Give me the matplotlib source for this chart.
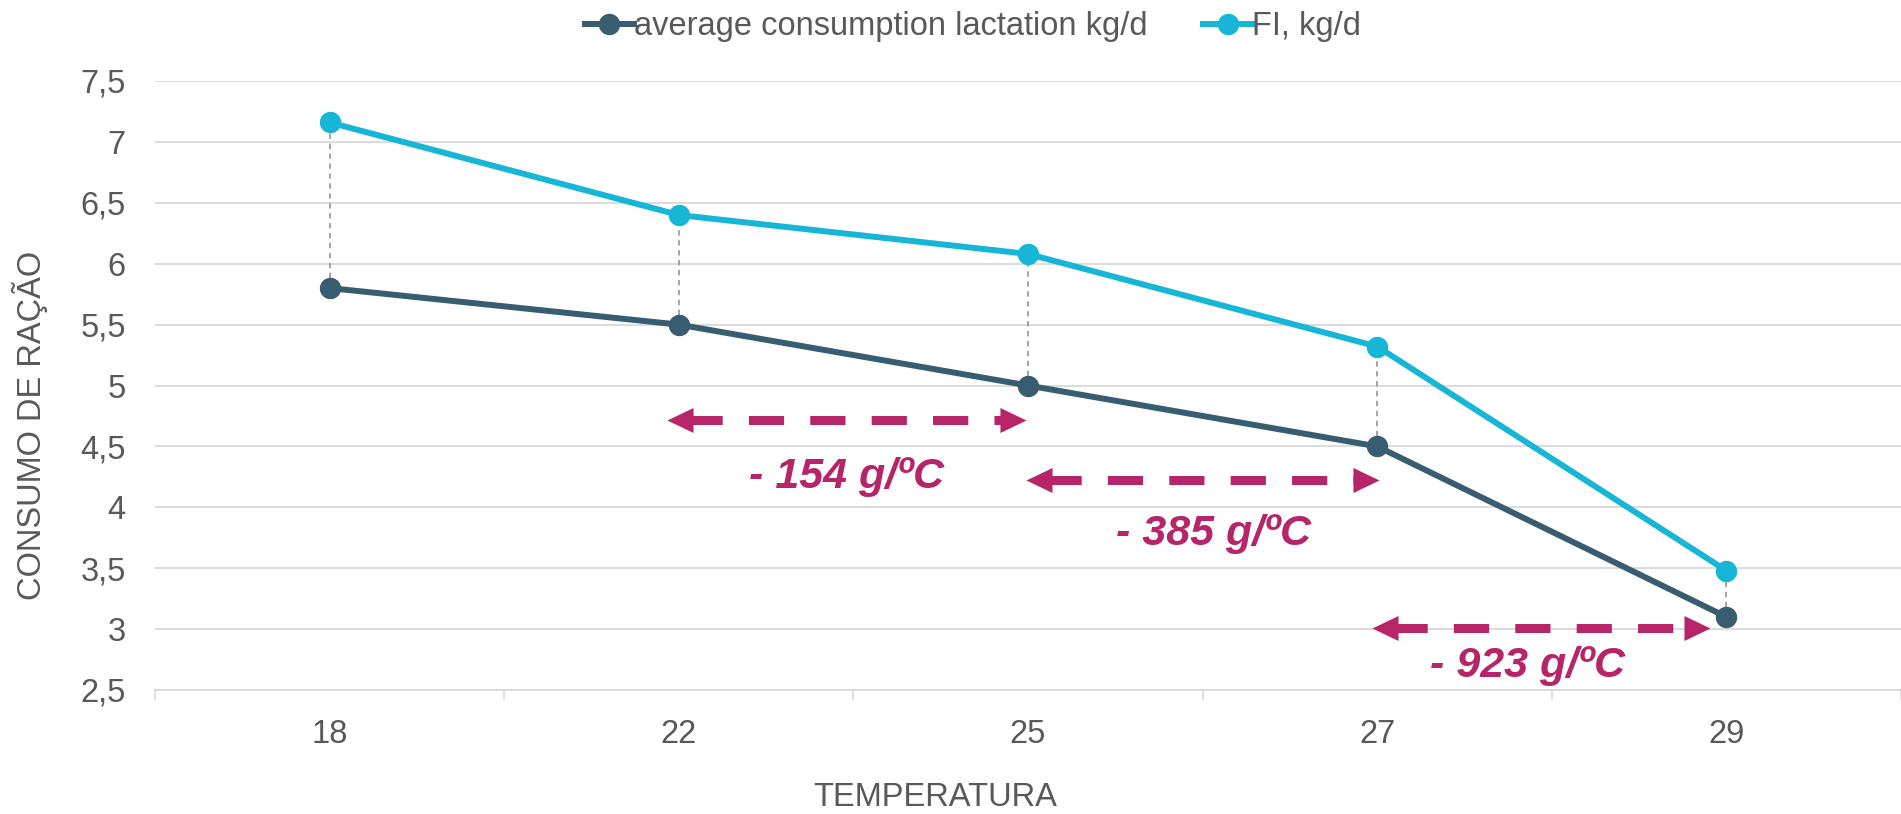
import matplotlib
matplotlib.use("Agg")
import matplotlib.pyplot as plt
import numpy as np

plt.rcParams["font.family"] = ["Liberation Sans", "DejaVu Sans"]

# Data
temperatures = ["18", "22", "25", "27", "29"]
avg_lactation = [5.8, 5.5, 5.0, 4.5, 3.1]
fi_kgd = [7.16, 6.4, 6.08, 5.32, 3.48]
y_ticks = [2.5, 3, 3.5, 4, 4.5, 5, 5.5, 6, 6.5, 7, 7.5]

# Slope arrows: (x start, x end, y) and their labels (text, x, y)
arrow_spans = [(0.966, 1.994, 4.713), (1.995, 3.006, 4.224), (2.985, 3.953, 3.005)]
slope_labels = [("- 154 g/ºC", 1.48, 4.25),
                ("- 385 g/ºC", 2.53, 3.78),
                ("- 923 g/ºC", 3.43, 2.70)]

DARK = "#385D70"
CYAN = "#17B6D6"
MAGENTA = "#B62568"
GRID = "#D9D9D9"
TEXT = "#595959"

fig = plt.figure(figsize=(19.01, 8.14), dpi=100)
ax = fig.add_axes([155 / 1901, 1 - 690 / 814, 1 - 155 / 1901, (690 - 81) / 814])

x = np.arange(len(temperatures))

# Drop lines between the two series
for xi, lo, hi in zip(x, avg_lactation, fi_kgd):
    ax.plot([xi, xi], [lo, hi], color="#8C8C8C", lw=1.1, ls=(0, (3.5, 3)), zorder=2)

ax.plot(x, avg_lactation, color=DARK, lw=4.3, marker="o", ms=14.4,
        label="average consumption lactation kg/d", zorder=4)
ax.plot(x, fi_kgd, color=CYAN, lw=4.3, marker="o", ms=14.4,
        label="FI, kg/d", zorder=4)

# Double-headed dashed arrows (heads drawn as triangle markers, tip at the end point)
left_head = [(0, 0), (1, 0.48), (1, -0.48), (0, 0)]
right_head = [(0, 0), (-1, 0.48), (-1, -0.48), (0, 0)]
px_per_unit = (1746 / 5)
inset = 20 / px_per_unit
for x0, x1, yv in arrow_spans:
    ax.plot([x0 + inset, x1 - inset], [yv, yv], color=MAGENTA, lw=6.5,
            ls=(0, (3.9, 2.9)), solid_capstyle="butt", dash_capstyle="butt", zorder=5)
    ax.plot([x0], [yv], marker=left_head, ms=37.5, color=MAGENTA, mew=0, zorder=6)
    ax.plot([x1], [yv], marker=right_head, ms=37.5, color=MAGENTA, mew=0, zorder=6)

for txt, tx, ty in slope_labels:
    ax.text(tx, ty, txt, color=MAGENTA, fontsize=31, fontweight="bold",
            fontstyle="italic", ha="center", va="center", zorder=6)

ax.set_xlim(-0.5, len(temperatures) - 0.5)
ax.set_ylim(2.5, 7.5)
ax.set_yticks(y_ticks)
ax.set_yticklabels([("%g" % v).replace(".", ",") for v in y_ticks])
ax.set_xticks(x)
ax.set_xticklabels(temperatures)
ax.set_xticks(np.arange(-0.5, len(temperatures)), minor=True)

ax.tick_params(axis="y", length=0, pad=21, labelsize=23.5, labelcolor=TEXT)
ax.tick_params(axis="x", which="major", length=0, pad=21, labelsize=23.5, labelcolor=TEXT)
ax.tick_params(axis="x", which="minor", length=7, width=1.2, color=GRID)

ax.grid(axis="y", color=GRID, lw=1.3, zorder=0)
ax.set_axisbelow(True)
for side in ["left", "right", "top"]:
    ax.spines[side].set_visible(False)
ax.spines["bottom"].set_color(GRID)
ax.spines["bottom"].set_linewidth(1.3)

fig.text(30 / 1901, 1 - 425 / 814, "CONSUMO DE RAÇÃO", rotation=90,
         ha="center", va="center", fontsize=23.5, color=TEXT)
fig.text(935 / 1901, 1 - 797 / 814, "TEMPERATURA", ha="center", va="center",
         fontsize=23.5, color=TEXT)

fig.legend(loc="center", bbox_to_anchor=(973 / 1901, 1 - 27 / 814), ncol=2,
           frameon=False, fontsize=23.5, handlelength=1.5, handletextpad=0.0,
           columnspacing=1.7, labelcolor=TEXT)

fig.savefig("out.png", dpi=100)
